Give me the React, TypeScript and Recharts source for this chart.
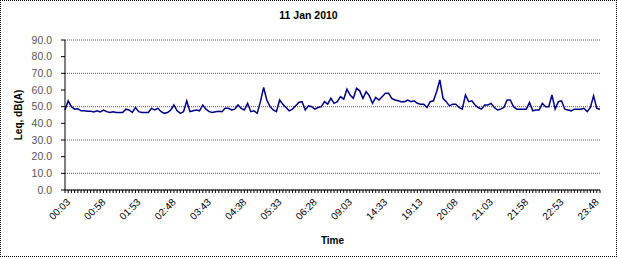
import React from "react";
import {
  LineChart,
  Line,
  XAxis,
  YAxis,
  CartesianGrid,
} from "recharts";

// one reading every 5 minutes (with gaps), Leq in dB(A)
const leq = [
  48, 53.5, 50, 48.5, 48.8, 47.5, 47.5, 47.3, 47.2, 46.8, 47.5,
  46.8, 48, 47, 46.5, 47, 46.5, 46.5, 46.5, 48.5, 48, 46.5,
  49.5, 47, 46.5, 46.5, 46.5, 49, 48, 49, 47, 46, 46.5,
  48, 51, 47.5, 46, 47, 53.5, 47, 47.5, 48, 47.5, 51,
  48.5, 47, 46.5, 47, 47.2, 47, 49, 49, 48, 48.5, 51,
  49, 48, 52, 47, 47.5, 46, 53, 61.5, 54, 50, 48,
  47, 54, 51.5, 49.5, 47.5, 48.5, 50.5, 52.5, 53, 48, 50.5,
  50, 48.5, 49.5, 50, 53, 51.5, 55, 52, 53, 56, 54.5,
  60.5, 57, 55, 61, 59.5, 55, 59, 56.5, 52, 55.5, 54,
  56, 58, 58, 55, 54, 53.5, 53, 53, 54, 53, 53.5,
  52, 51.5, 51.5, 49.5, 53, 53.5, 59, 66, 55, 53, 50.5,
  51.5, 51.5, 49.5, 48.5, 57, 53, 53.5, 51, 49.5, 48.5, 51,
  51, 52, 49.5, 48, 48.5, 49.5, 54, 54, 50, 48.5, 48.5,
  48.5, 48.5, 52.5, 47.5, 48, 48, 52, 50, 50, 57, 48.5,
  53, 53.5, 48.5, 48, 47.5, 48.5, 48.5, 48.5, 49, 47, 49.5,
  56.5, 49, 48.5,
];

// time shown under every 11th reading
const timeLabels = [
  "00:03", "00:58", "01:53", "02:48", "03:43", "04:38", "05:33", "06:28",
  "09:03", "14:33", "19:13", "20:08", "21:03", "21:58", "22:53", "23:48",
];
const labelEvery = 11;

const yTicks = [0, 10, 20, 30, 40, 50, 60, 70, 80, 90];

const data = leq.map((v, i) => ({ idx: i, leq: v }));

const font = "'Liberation Sans', Arial, sans-serif";

function TimeTick(props: any) {
  const { x, y, payload } = props;
  const i = payload.value as number;
  if (i % labelEvery !== 0) return <g />;
  const label = timeLabels[i / labelEvery];
  return (
    <g transform={`translate(${x + 3},${y + 5})`}>
      <text
        x={0}
        y={0}
        dy={4}
        textAnchor="end"
        transform="rotate(-45)"
        fontSize={10}
        fontFamily={font}
        fill="#000"
      >
        {label}
      </text>
    </g>
  );
}

export default function App() {
  return (
    <div
      style={{
        position: "absolute",
        left: 0,
        top: 0,
        width: 617,
        height: 257,
        background: "#fff",
        fontFamily: font,
      }}
    >
      <div
        style={{
          position: "absolute",
          top: 9,
          left: 0,
          width: 617,
          textAlign: "center",
          fontWeight: "bold",
          fontSize: 10.5,
        }}
      >
        11 Jan 2010
      </div>
      <LineChart
        width={617}
        height={257}
        data={data}
        margin={{ top: 40, right: 17, left: 0, bottom: 0 }}
      >
        <CartesianGrid vertical={false} stroke="#5a5a5a" strokeDasharray="1 1" />
        <XAxis
          dataKey="idx"
          type="category"
          interval={0}
          height={67}
          tickSize={3}
          tick={<TimeTick />}
          axisLine={{ stroke: "#000" }}
          tickLine={{ stroke: "#000" }}
          label={{
            value: "Time",
            position: "insideBottom",
            offset: 13,
            style: { fontWeight: "bold", fontSize: 10, fill: "#000", fontFamily: font },
          }}
        />
        <YAxis
          domain={[0, 90]}
          ticks={yTicks}
          width={65}
          tickSize={4}
          tickMargin={9}
          tickFormatter={(v: number) => v.toFixed(1)}
          tick={{ fontSize: 10.5, fill: "#555", fontFamily: font }}
          axisLine={{ stroke: "#000" }}
          tickLine={{ stroke: "#000" }}
          label={{
            value: "Leq, dB(A)",
            angle: -90,
            position: "insideLeft",
            offset: 18,
            style: { textAnchor: "middle", fontWeight: "bold", fontSize: 10, fill: "#000", fontFamily: font },
          }}
        />
        <Line
          type="linear"
          dataKey="leq"
          stroke="#000080"
          strokeWidth={1.5}
          dot={false}
          isAnimationActive={false}
        />
      </LineChart>
      <div
        style={{
          position: "absolute",
          left: 0,
          top: 0,
          width: 617,
          height: 257,
          boxSizing: "border-box",
          border: "1px dotted #000",
          pointerEvents: "none",
        }}
      />
    </div>
  );
}
